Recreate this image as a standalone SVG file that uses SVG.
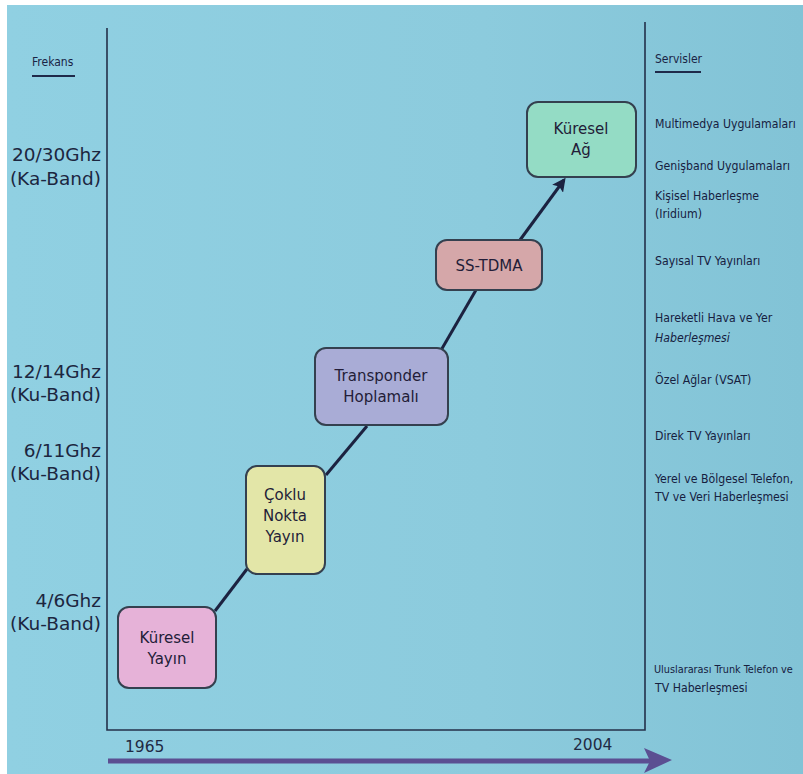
<svg xmlns="http://www.w3.org/2000/svg" width="803" height="774" viewBox="0 0 803 774">
<defs>
<style>
.box{stroke:#34404f;stroke-width:2}
.bt{font-family:"DejaVu Sans","Liberation Sans",sans-serif;font-size:15px;fill:#231d38;text-anchor:middle}
.fq{font-family:"DejaVu Sans","Liberation Sans",sans-serif;font-size:18.5px;fill:#1c263f;text-anchor:end}
.sv{font-family:"DejaVu Sans Condensed","DejaVu Sans","Liberation Sans",sans-serif;font-size:12.2px;fill:#16203f;font-stretch:condensed}
.hd{font-family:"DejaVu Sans Condensed","DejaVu Sans",sans-serif;font-size:12px;fill:#1a2445}
.ax{stroke:#24304a;stroke-width:1.6;fill:none}
.con{stroke:#1c2240;stroke-width:3;fill:none}
.yr{font-family:"DejaVu Sans","Liberation Sans",sans-serif;font-size:15.5px;fill:#1f2a44}
</style>
<marker id="ah" viewBox="0 0 10 10" refX="8" refY="5" markerWidth="4.5" markerHeight="4.5" orient="auto">
<path d="M0,0 L10,5 L0,10 L2,5 Z" fill="#1c2240"/>
</marker>
<linearGradient id="bg" x1="0" y1="0" x2="1" y2="0">
<stop offset="0" stop-color="#90d0e2"/>
<stop offset="0.6" stop-color="#8ccbdd"/>
<stop offset="1" stop-color="#82c3d6"/>
</linearGradient>
</defs>
<rect x="0" y="0" width="803" height="774" fill="#ffffff"/>
<rect x="7" y="5" width="796" height="769" fill="url(#bg)"/>

<!-- axes -->
<g id="axes">
<path class="ax" d="M107,28 V730 H645 V22"/>
<line x1="108" y1="761" x2="652" y2="761" stroke="#5b4f92" stroke-width="5"/>
<path d="M644,748 L672,760 L644,773 L650,761 Z" fill="#5b4f92"/>
<text class="yr" x="125" y="752">1965</text>
<text class="yr" x="573" y="750">2004</text>
</g>

<!-- frequency labels -->
<g id="freq">
<text class="hd" x="32" y="66">Frekans</text>
<line x1="32" y1="76" x2="75" y2="76" stroke="#1f2a4a" stroke-width="2"/>
<text class="fq" x="101" y="161">20/30Ghz</text>
<text class="fq" x="101" y="185">(Ka-Band)</text>
<text class="fq" x="101" y="378">12/14Ghz</text>
<text class="fq" x="101" y="401">(Ku-Band)</text>
<text class="fq" x="101" y="457">6/11Ghz</text>
<text class="fq" x="101" y="480">(Ku-Band)</text>
<text class="fq" x="101" y="607">4/6Ghz</text>
<text class="fq" x="101" y="630">(Ku-Band)</text>
</g>

<!-- services -->
<g id="services">
<text class="hd" x="655" y="63">Servisler</text>
<line x1="655" y1="72" x2="701" y2="72" stroke="#1f2a4a" stroke-width="2"/>
<text class="sv" x="655" y="128">Multimedya Uygulamaları</text>
<text class="sv" x="655" y="170">Genişband Uygulamaları</text>
<text class="sv" x="655" y="200">Kişisel Haberleşme</text>
<text class="sv" x="655" y="218">(Iridium)</text>
<text class="sv" x="655" y="265">Sayısal TV Yayınları</text>
<text class="sv" x="655" y="322">Hareketli Hava ve Yer</text>
<text class="sv" x="655" y="342" font-style="italic">Haberleşmesi</text>
<text class="sv" x="655" y="384">Özel Ağlar (VSAT)</text>
<text class="sv" x="655" y="440">Direk TV Yayınları</text>
<text class="sv" x="655" y="483">Yerel ve Bölgesel Telefon,</text>
<text class="sv" x="655" y="501">TV ve Veri Haberleşmesi</text>
<text class="sv" x="654" y="673" style="font-size:10.8px">Uluslararası Trunk Telefon ve</text>
<text class="sv" x="655" y="692">TV Haberleşmesi</text>
</g>

<!-- connectors -->
<g id="connectors">
<line class="con" x1="215" y1="611" x2="247" y2="569"/>
<line class="con" x1="326" y1="475" x2="367" y2="426"/>
<line class="con" x1="440" y1="352" x2="476" y2="290"/>
<line class="con" x1="520" y1="240" x2="564" y2="180" marker-end="url(#ah)"/>
</g>

<!-- nodes -->
<g id="kuresel-yayin">
<rect class="box" x="118" y="607" width="98" height="81" rx="11" fill="#e6b2d8"/>
<text class="bt" x="167" y="643">Küresel</text>
<text class="bt" x="167" y="664">Yayın</text>
</g>
<g id="coklu-nokta">
<rect class="box" x="246" y="466" width="79" height="108" rx="11" fill="#e3e6a8"/>
<text class="bt" x="285" y="500">Çoklu</text>
<text class="bt" x="285" y="521">Nokta</text>
<text class="bt" x="285" y="542">Yayın</text>
</g>
<g id="transponder">
<rect class="box" x="315" y="348" width="133" height="77" rx="11" fill="#a9acd6"/>
<text class="bt" x="381" y="381">Transponder</text>
<text class="bt" x="381" y="402">Hoplamalı</text>
</g>
<g id="ss-tdma">
<rect class="box" x="436" y="240" width="106" height="50" rx="11" fill="#d5a7a9"/>
<text class="bt" x="489" y="271">SS-TDMA</text>
</g>
<g id="kuresel-ag">
<rect class="box" x="527" y="102" width="109" height="75" rx="11" fill="#94dcc5"/>
<text class="bt" x="581" y="134">Küresel</text>
<text class="bt" x="581" y="155">Ağ</text>
</g>
</svg>
